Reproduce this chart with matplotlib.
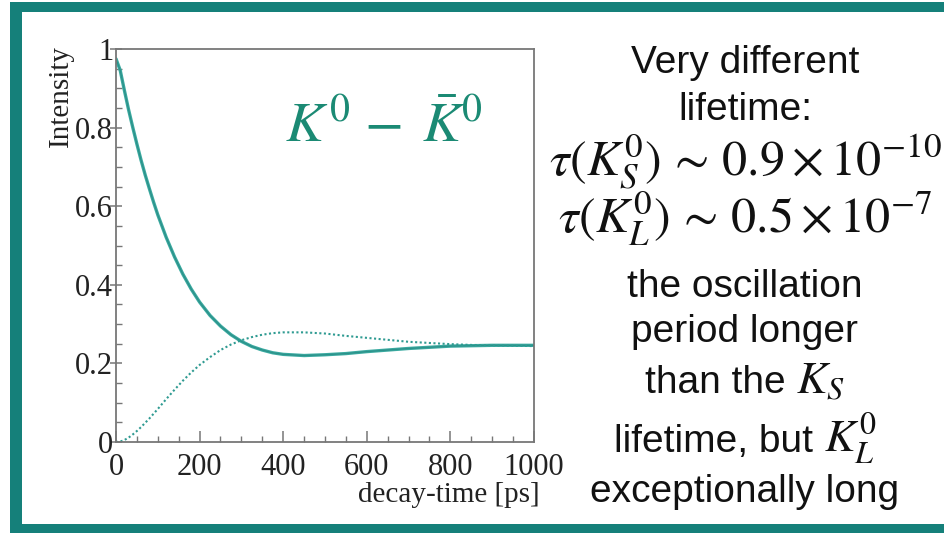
import matplotlib
matplotlib.use("Agg")
import matplotlib.pyplot as plt
from matplotlib.patches import Rectangle
from matplotlib.ticker import MultipleLocator, FixedLocator

plt.rcParams['mathtext.fontset'] = 'stix'

# ---- data ----
decay_time = [0, 10, 20, 30, 40, 50, 60, 70, 80, 90, 100, 120, 140, 160, 180, 200,
              225, 250, 275, 300, 325, 350, 375, 400, 450, 500, 550, 600, 650, 700,
              750, 800, 850, 900, 950, 1000]
intensity_k0 = [0.975, 0.946, 0.895, 0.846, 0.801, 0.758, 0.717, 0.679, 0.644, 0.610,
                0.578, 0.521, 0.471, 0.427, 0.389, 0.356, 0.322, 0.295, 0.273, 0.256,
                0.243, 0.234, 0.227, 0.223, 0.220, 0.222, 0.225, 0.230, 0.234, 0.238,
                0.241, 0.244, 0.245, 0.246, 0.246, 0.246]
intensity_k0bar = [0.000, 0.001, 0.005, 0.011, 0.019, 0.028, 0.038, 0.049, 0.060, 0.072,
                   0.084, 0.109, 0.133, 0.156, 0.177, 0.196, 0.216, 0.234, 0.248, 0.259,
                   0.267, 0.273, 0.277, 0.279, 0.279, 0.276, 0.270, 0.265, 0.260, 0.255,
                   0.252, 0.249, 0.247, 0.246, 0.245, 0.244]
x_ticks = [0, 200, 400, 600, 800, 1000]
x_tick_labels = ['0', '200', '400', '600', '800', '1000']
y_ticks = [0, 0.2, 0.4, 0.6, 0.8, 1.0]
y_tick_labels = ['0', '0.2', '0.4', '0.6', '0.8', '1']

# (plain text part, math part, baseline in px)
side_lines = [
    ("Very different", "", 73),
    ("lifetime:", "", 120),
    ("", r"$\tau(K^0_S)\,\sim\,0.9\times10^{-10}$", 175),
    ("", r"$\tau(K^0_L)\,\sim\,0.5\times10^{-7}$", 233),
    ("the oscillation", "", 297),
    ("period longer", "", 342),
    ("than the ", r"$K_S$", 393),
    ("lifetime, but ", r"$K^0_L$", 452),
    ("exceptionally long", "", 502),
]

W, H = 945, 533
fig = plt.figure(figsize=(W / 100, H / 100), dpi=100)
fig.patch.set_facecolor('white')

teal = '#15807a'
# frame border
fig.add_artist(Rectangle((10 / W, 0), 12 / W, 1 - 2 / H, transform=fig.transFigure,
                         facecolor=teal, edgecolor='none'))
fig.add_artist(Rectangle((10 / W, 1 - 12 / H), 1, 10 / H, transform=fig.transFigure,
                         facecolor=teal, edgecolor='none'))
fig.add_artist(Rectangle((10 / W, 0), 1, 9 / H, transform=fig.transFigure,
                         facecolor=teal, edgecolor='none'))

# axes
ax_l, ax_r, ax_t, ax_b = 116, 534, 49, 442
ax = fig.add_axes([ax_l / W, 1 - ax_b / H, (ax_r - ax_l) / W, (ax_b - ax_t) / H])

ax.plot(decay_time, intensity_k0, color='#3aaaa0', lw=2.4, solid_capstyle='round')
ax.plot(decay_time, intensity_k0, color='#2c918a', lw=0.9, solid_capstyle='round')
ax.plot(decay_time, intensity_k0bar, color='#2f9b92', lw=1.5, linestyle=(0, (1.0, 1.2)))

ax.set_xlim(0, 1000)
ax.set_ylim(0, 1)
ax.xaxis.set_major_locator(FixedLocator(x_ticks))
ax.set_xticklabels(x_tick_labels)
ax.yaxis.set_major_locator(FixedLocator(y_ticks))
ax.set_yticklabels(y_tick_labels)
ax.xaxis.set_minor_locator(MultipleLocator(50))
ax.yaxis.set_minor_locator(MultipleLocator(0.05))

spine_col = '#777777'
for s in ax.spines.values():
    s.set_color(spine_col)
    s.set_linewidth(1.3)

serif = ['Liberation Serif', 'DejaVu Serif']
ax.tick_params(axis='x', which='major', direction='in', length=8, width=1.1,
               color=spine_col, pad=8, labelsize=22, labelcolor='#222222')
ax.tick_params(axis='x', which='minor', direction='in', length=4, width=1.0,
               color=spine_col)
ax.tick_params(axis='y', which='major', direction='inout', length=9, width=1.1,
               color=spine_col, pad=-2.5, labelsize=22, labelcolor='#222222')
ax.tick_params(axis='y', which='minor', direction='in', length=4, width=1.0,
               color=spine_col)
for lab in ax.get_xticklabels() + ax.get_yticklabels():
    lab.set_family(serif)

ax.set_xlabel('decay-time [ps]', fontsize=21, family=serif, color='#222222', loc='right')
ax.xaxis.label.set_va('baseline')
ax.xaxis.set_label_coords((540 - ax_l) / (ax_r - ax_l), (ax_b - 502) / (ax_b - ax_t))
ax.set_ylabel('Intensity', fontsize=21, family=serif, color='#222222', loc='top')
ax.yaxis.set_label_coords((74 - ax_l) / (ax_r - ax_l), (ax_b - 45) / (ax_b - ax_t))

fig.text(384 / W, 1 - 142 / H, r'$K^0\!\;-\;\bar{K}^0$', fontsize=41, color='#1b8a74',
         ha='center', va='baseline')

renderer = fig.canvas.get_renderer()
cx = 745
for plain, math, base in side_lines:
    y = 1 - base / H
    parts = []
    if plain:
        parts.append(fig.text(0, y, plain, fontsize=28, color='#111111',
                              family=['Liberation Sans', 'DejaVu Sans'],
                              ha='left', va='baseline'))
    if math:
        fs = 36 if not plain else 33
        parts.append(fig.text(0, y, math, fontsize=fs, color='#111111',
                              ha='left', va='baseline'))
    widths = [p.get_window_extent(renderer).width for p in parts]
    x = cx - sum(widths) / 2
    for p, w in zip(parts, widths):
        p.set_x(x / W)
        x += w

fig.savefig('out.png', dpi=100, facecolor='white')
